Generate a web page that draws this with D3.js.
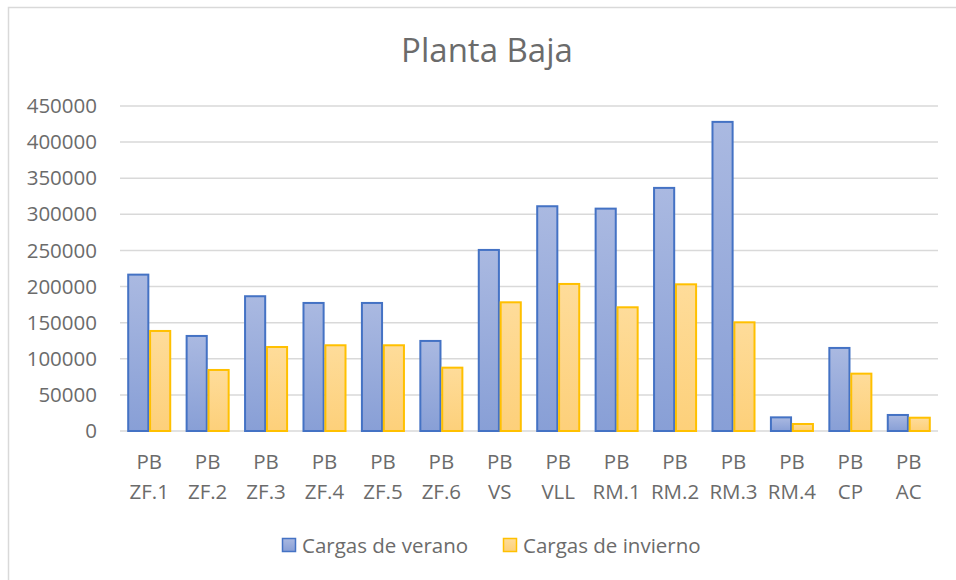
<!DOCTYPE html>
<html lang="es">
<head>
  <meta charset="UTF-8">
  <title>Planta Baja</title>
  <style>
    body { margin: 0; background: #fff; }
    text { font-family: "Open Sans", sans-serif; fill: #6b6b6b; }
  </style>
</head>
<body>
  <svg id="svg" width="956" height="580"></svg>

  <script src="https://d3js.org/d3.v7.min.js"></script>
  <script>
    // data
    const categories = ['PB ZF.1', 'PB ZF.2', 'PB ZF.3', 'PB ZF.4', 'PB ZF.5', 'PB ZF.6', 'PB VS',
      'PB VLL', 'PB RM.1', 'PB RM.2', 'PB RM.3', 'PB RM.4', 'PB CP', 'PB AC']
    const verano = [216500, 131600, 186600, 177300, 177300, 124700, 250700,
      311200, 307900, 336600, 428000, 18900, 115000, 22200]
    const invierno = [138500, 84500, 116300, 118700, 118700, 87700, 178200,
      203600, 171300, 203100, 150500, 9700, 79400, 18400]
    const seriesNames = ['Cargas de verano', 'Cargas de invierno']
    const yTicks = [0, 50000, 100000, 150000, 200000, 250000, 300000, 350000, 400000, 450000]

    const margin = { top: 106, right: 18, bottom: 149, left: 120 }
    const width = 956 - margin.left - margin.right
    const height = 580 - margin.top - margin.bottom

    const svg = d3.select('#svg')

    // chart border
    svg.append('rect')
      .attr('x', 8.5).attr('y', 7.5)
      .attr('width', 980).attr('height', 600)
      .attr('fill', 'none')
      .attr('stroke', '#d9d9d9')
      .attr('stroke-width', 1.5)

    // gradients
    const defs = svg.append('defs')
    const grads = [
      { id: 'gBlue', top: '#aab9e1', bottom: '#889fd6' },
      { id: 'gGold', top: '#fedc9a', bottom: '#fdd07a' }
    ]
    grads.forEach(g => {
      const lg = defs.append('linearGradient')
        .attr('id', g.id)
        .attr('x1', 0).attr('y1', 0).attr('x2', 0).attr('y2', 1)
      lg.append('stop').attr('offset', '0%').attr('stop-color', g.top)
      lg.append('stop').attr('offset', '100%').attr('stop-color', g.bottom)
    })
    const fills = ['url(#gBlue)', 'url(#gGold)']
    const strokes = ['#4472c4', '#ffc000']

    // title
    svg.append('text')
      .attr('x', 487).attr('y', 62)
      .attr('text-anchor', 'middle')
      .style('font-size', '33px')
      .text('Planta Baja')

    const g = svg.append('g')
      .attr('transform', `translate(${margin.left}, ${margin.top})`)

    const x0 = d3.scaleBand()
      .domain(categories)
      .range([0, width])

    const x1 = d3.scaleBand()
      .domain(seriesNames)
      .range([8.2, x0.bandwidth() - 8.2])
      .paddingInner(0.08)

    const y = d3.scaleLinear()
      .domain([0, 450000])
      .range([height, 0])

    // gridlines
    g.append('g')
      .selectAll('line')
      .data(yTicks)
      .join('line')
      .attr('x1', 0).attr('x2', width)
      .attr('y1', d => y(d)).attr('y2', d => y(d))
      .attr('stroke', '#d9d9d9')
      .attr('stroke-width', 1.5)

    // y axis labels
    const yAxis = g.append('g')
      .call(d3.axisLeft(y).tickValues(yTicks).tickFormat(d3.format('d')).tickSize(0).tickPadding(23))
    yAxis.select('.domain').remove()
    yAxis.selectAll('text')
      .style('font-size', '20.5px')
      .style('font-family', '"Open Sans", sans-serif')
      .attr('fill', '#6b6b6b')

    // bars
    const rows = categories.map((c, i) => ({ cat: c, values: [verano[i], invierno[i]] }))

    const groups = g.selectAll('.grp')
      .data(rows)
      .join('g')
      .attr('class', 'grp')
      .attr('transform', d => `translate(${x0(d.cat)}, 0)`)

    groups.selectAll('rect')
      .data(d => d.values.map((v, i) => ({ key: seriesNames[i], value: v, i: i })))
      .join('rect')
      .attr('x', d => x1(d.key))
      .attr('width', x1.bandwidth())
      .attr('y', d => y(d.value))
      .attr('height', d => height - y(d.value))
      .attr('fill', d => fills[d.i])
      .attr('stroke', d => strokes[d.i])
      .attr('stroke-width', 2)

    // x labels, two lines
    const xl = g.append('g')
      .selectAll('text')
      .data(categories)
      .join('text')
      .attr('text-anchor', 'middle')
      .attr('x', d => x0(d) + x0.bandwidth() / 2)
      .style('font-size', '20.5px')
    xl.append('tspan')
      .attr('x', d => x0(d) + x0.bandwidth() / 2)
      .attr('y', height + 38)
      .text(d => d.split(' ')[0])
    xl.append('tspan')
      .attr('x', d => x0(d) + x0.bandwidth() / 2)
      .attr('y', height + 68)
      .text(d => d.split(' ')[1])

    // legend
    const legendX = [282, 503]
    const legend = svg.append('g')
      .selectAll('g')
      .data(seriesNames)
      .join('g')
      .attr('transform', (d, i) => `translate(${legendX[i]}, 538)`)
    legend.append('rect')
      .attr('x', 0.5).attr('y', 0.5)
      .attr('width', 13).attr('height', 13)
      .attr('fill', (d, i) => fills[i])
      .attr('stroke', (d, i) => strokes[i])
      .attr('stroke-width', 1.5)
    legend.append('text')
      .attr('x', 20).attr('y', 14.5)
      .style('font-size', '20.5px')
      .text(d => d)
  </script>
</body>
</html>
